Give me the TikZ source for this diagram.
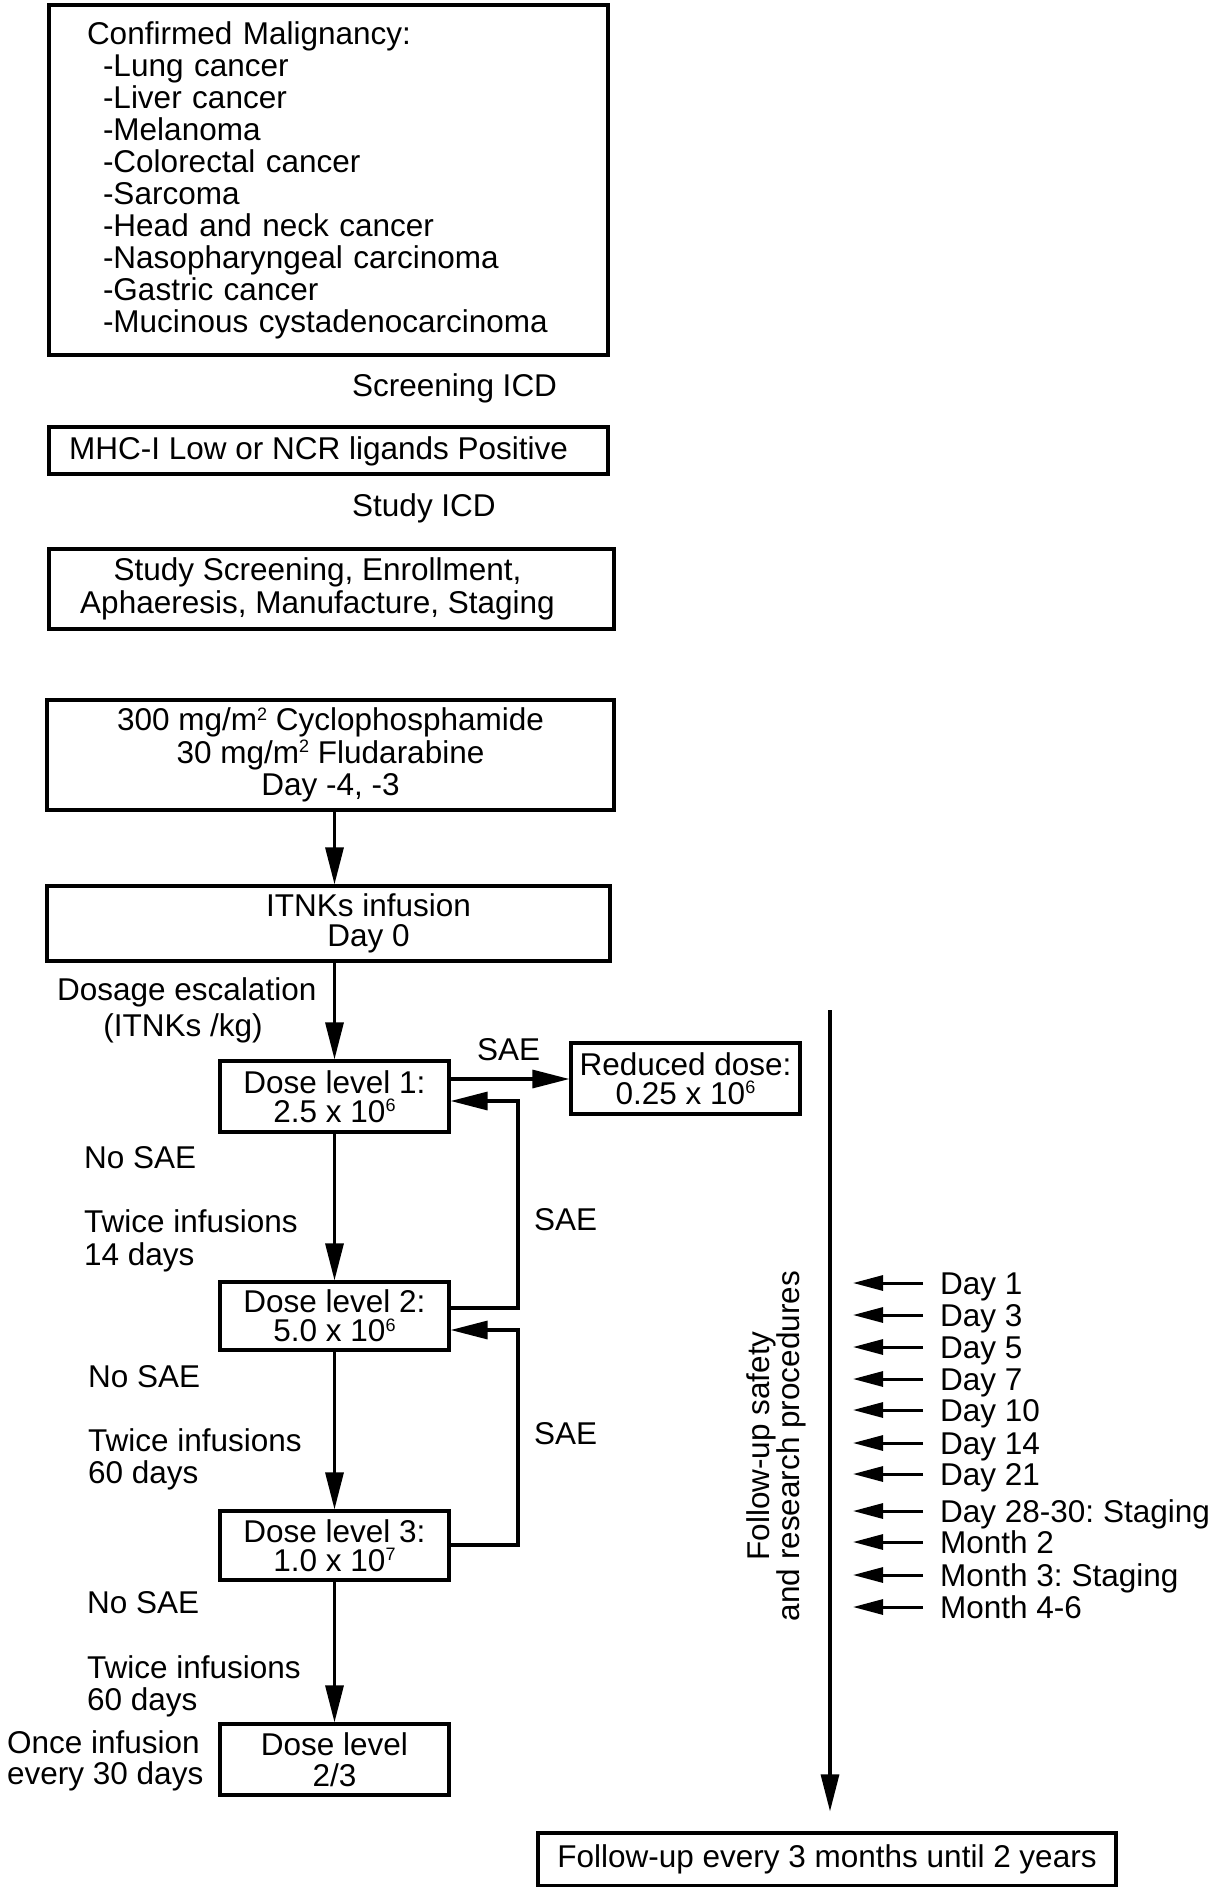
\documentclass[tikz,border=0pt]{standalone}
\usepackage{fontspec}
\setmainfont{Liberation Sans}
\usetikzlibrary{arrows.meta}
\frenchspacing
\newcommand\mysup[1]{\raisebox{0.33em}{\fontsize{18}{18}\selectfont #1}}
\begin{document}
\begin{tikzpicture}[x=1pt,y=-1pt,
  every node/.style={font=\fontsize{31.5}{32}\selectfont, inner sep=0pt},
  box/.style={draw, line width=3.2pt, align=center},
  lbl/.style={anchor=base west},
  arr/.style={line width=3.2pt, -{Triangle[length=37pt,width=18pt]}},
  sarr/.style={line width=3pt, -{Triangle[length=30pt,width=15pt]}},
  daylbl/.style={anchor=west, text height=22pt, text depth=0pt}]
\useasboundingbox (0,0) rectangle (1215,1887);

% top boxes
\node[box, align=left, text width=483pt, inner xsep=38pt, minimum height=350pt] (b1) at (328.5,180)
 {Confirmed Malignancy:\\
  \hspace*{16pt}-Lung cancer\\
  \hspace*{16pt}-Liver cancer\\
  \hspace*{16pt}-Melanoma\\
  \hspace*{16pt}-Colorectal cancer\\
  \hspace*{16pt}-Sarcoma\\
  \hspace*{16pt}-Head and neck cancer\\
  \hspace*{16pt}-Nasopharyngeal carcinoma\\
  \hspace*{16pt}-Gastric cancer\\
  \hspace*{16pt}-Mucinous cystadenocarcinoma};
\node[lbl] (scr) at (352,396) {Screening ICD};
\node[box, minimum width=559pt, minimum height=47pt, text depth=4pt] (b2) at (328.5,450.5)
 {MHC-I Low or NCR ligands Positive\hspace*{20pt}};
\node[lbl] (sicd) at (352,516) {Study ICD};
\node[box, minimum width=565pt, minimum height=80pt, font=\fontsize{31.5}{33}\selectfont] (b3) at (331.5,589)
 {Study Screening, Enrollment,\hspace*{28pt}\\Aphaeresis, Manufacture, Staging\hspace*{28pt}};
\node[box, minimum width=567pt, minimum height=110pt, font=\fontsize{31.5}{32.5}\selectfont] (b4) at (330.5,755)
 {300 mg/m\mysup{2} Cyclophosphamide\\30 mg/m\mysup{2} Fludarabine\\Day -4, -3};
\node[box, minimum width=563pt, minimum height=75pt, font=\fontsize{31.5}{30}\selectfont] (b5) at (328.5,923.5)
 {\hspace*{80pt}ITNKs infusion\\\hspace*{80pt}Day 0};

% dose boxes
\node[box, minimum width=229pt, minimum height=71pt, font=\fontsize{31.5}{29}\selectfont] (d1) at (334.5,1096.5)
 {Dose level 1:\\2.5 x 10\mysup{6}};
\node[box, minimum width=229pt, minimum height=71pt, font=\fontsize{31.5}{29}\selectfont] (red) at (685.5,1078.5)
 {Reduced dose:\\0.25 x 10\mysup{6}};
\node[box, minimum width=229pt, minimum height=68pt, font=\fontsize{31.5}{29}\selectfont] (d2) at (334.5,1316)
 {Dose level 2:\\5.0 x 10\mysup{6}};
\node[box, minimum width=229pt, minimum height=69pt, font=\fontsize{31.5}{29}\selectfont] (d3) at (334.5,1545.5)
 {Dose level 3:\\1.0 x 10\mysup{7}};
\node[box, minimum width=229pt, minimum height=71pt, font=\fontsize{31.5}{31}\selectfont] (d4) at (334.5,1759.5)
 {Dose level\\2/3};
\node[box, minimum width=578pt, minimum height=53pt] (bot) at (827,1859.5)
 {Follow-up every 3 months until 2 years};

% labels
\node[lbl] (esc) at (57,1000) {Dosage escalation};
\node[anchor=base] (esc2) at (183,1036) {(ITNKs /kg)};
\node[lbl] (sae1) at (477,1060) {SAE};
\node[lbl] (sae2) at (534,1230) {SAE};
\node[lbl] (sae3) at (534,1444) {SAE};
\node[lbl] (ns1) at (84,1168) {No SAE};
\node[lbl] (tw1) at (84,1232) {Twice infusions};
\node[lbl] (tw1b) at (84,1265) {14 days};
\node[lbl] (ns2) at (88,1387) {No SAE};
\node[lbl] (tw2) at (88,1451) {Twice infusions};
\node[lbl] (tw2b) at (88,1483) {60 days};
\node[lbl] (ns3) at (87,1613) {No SAE};
\node[lbl] (tw3) at (87,1678) {Twice infusions};
\node[lbl] (tw3b) at (87,1710) {60 days};
\node[lbl] (once) at (7,1753) {Once infusion};
\node[lbl] (once2) at (7,1784) {every 30 days};

% main arrows
\draw[arr] (b4.south -| d1.north) -- (b5.north -| d1.north);
\draw[arr] (b5.south -| d1.north) -- (d1.north);
\draw[arr] (d1) -- (d2);
\draw[arr] (d2) -- (d3);
\draw[arr] (d3) -- (d4);

\coordinate (s1) at (0,1079);
\draw[arr] (d1.east |- s1) -- (red.west |- s1);

\coordinate (f1a) at (518,1308);
\coordinate (f1b) at (518,1101);
\draw[arr] (d2.east |- f1a) -- (f1a) -- (f1b) -- (d1.east |- f1b);
\coordinate (f2a) at (518,1545);
\coordinate (f2b) at (518,1330);
\draw[arr] (d3.east |- f2a) -- (f2a) -- (f2b) -- (d2.east |- f2b);

% follow-up timeline
\coordinate (vtop) at (830,1010);
\draw[arr, shorten >=20pt] (vtop) -- (vtop |- bot.north);
\node[rotate=90, align=center, font=\fontsize{31.5}{30}\selectfont] (fu) at (776,1446)
 {Follow-up safety\\and research procedures};

\foreach \yy/\t [count=\i] in {1283/Day 1, 1315/Day 3, 1347/Day 5, 1379/Day 7, 1410/Day 10,
   1443/Day 14, 1474/Day 21, 1511/Day 28-30: Staging, 1542/Month 2, 1575/Month 3: Staging, 1607/Month 4-6}{
  \node[daylbl] (dl\i) at (940,\yy) {\t};
  \draw[sarr] ([xshift=-17pt]dl\i.west) -- +(-70,0);
}
\end{tikzpicture}
\end{document}
